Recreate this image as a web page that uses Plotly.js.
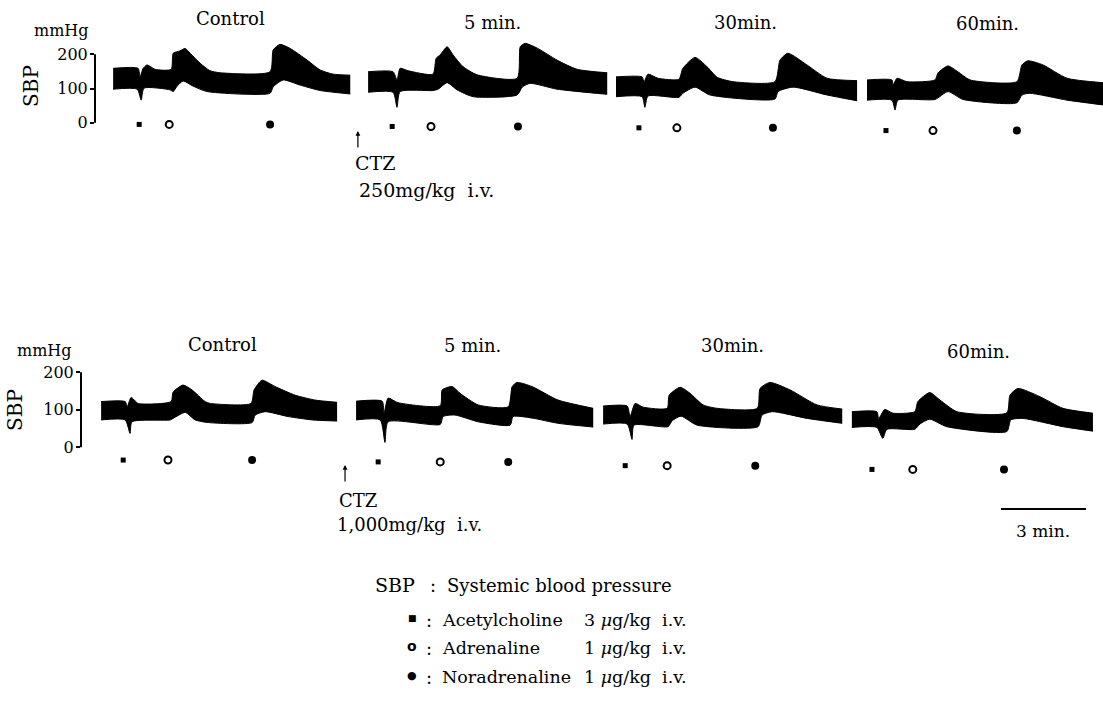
<!DOCTYPE html>
<html>
<head>
<meta charset="utf-8">
<script src="https://cdn.plot.ly/plotly-3.0.1.min.js"></script>
<style>html,body{margin:0;padding:0;background:#fff;}#chart{width:1103px;height:702px;}</style>
</head>
<body>
<div id="chart"></div>
<script>
// ---------------- DATA ----------------
const segmentTitles = ['Control', '5 min.', '30min.', '60min.'];
const tickValues = [0, 100, 200];

// Row 1: CTZ 250 mg/kg i.v. — time within each segment (min), SBP envelope (mmHg)
const r1UpT = [
  [0, 0.88, 0.95, 1.06, 1.20, 1.48, 2.05, 2.12, 2.36, 2.54, 2.72, 3.07, 3.42, 3.78, 5.54, 5.65, 5.89, 6.25, 6.85, 7.31, 7.77, 8.37],
  [0, 0.88, 1.02, 1.13, 1.41, 2.29, 2.40, 2.54, 2.79, 3.00, 3.35, 3.85, 5.26, 5.37, 5.54, 5.97, 6.67, 7.38, 8.44],
  [0, 0.92, 0.99, 1.13, 1.48, 2.22, 2.36, 2.79, 3.21, 3.57, 4.13, 5.61, 5.79, 6.07, 6.74, 7.45, 8.51],
  [0, 0.88, 0.92, 1.06, 1.41, 2.40, 2.51, 2.86, 3.21, 3.64, 5.29, 5.47, 5.68, 6.21, 7.06, 8.33]
];
const r1Up = [
  [159, 159, 134, 159, 169, 156, 156, 203, 210, 217, 203, 174, 152, 146, 149, 213, 229, 217, 183, 154, 142, 139],
  [149, 149, 125, 159, 152, 142, 188, 198, 222, 198, 164, 140, 130, 222, 232, 218, 183, 156, 146],
  [134, 134, 120, 142, 130, 127, 159, 191, 164, 133, 120, 120, 183, 203, 169, 130, 123],
  [125, 125, 110, 130, 120, 125, 146, 166, 149, 125, 120, 169, 181, 169, 130, 117]
];
const r1LoT = [
  [0, 0.85, 0.99, 1.09, 2.01, 2.12, 2.26, 2.47, 2.82, 3.32, 5.54, 5.65, 6.00, 6.60, 7.31, 8.37],
  [0, 0.88, 1.02, 1.13, 2.29, 2.47, 2.79, 3.14, 3.71, 5.26, 5.44, 5.72, 6.67, 8.44],
  [0, 0.92, 1.02, 1.13, 2.22, 2.36, 2.79, 3.32, 5.61, 5.72, 6.25, 7.45, 8.51],
  [0, 0.88, 0.99, 1.09, 2.40, 2.86, 3.39, 5.29, 5.47, 5.75, 7.06, 8.33]
];
const r1Lo = [
  [98, 98, 66, 101, 96, 91, 107, 122, 107, 91, 86, 105, 125, 110, 94, 84],
  [89, 89, 45, 91, 94, 98, 117, 96, 76, 81, 104, 115, 98, 83],
  [76, 76, 45, 78, 74, 86, 104, 81, 69, 91, 104, 81, 64],
  [66, 66, 37, 66, 68, 91, 68, 58, 81, 86, 66, 52]
];
const r1Ach = [0.92, 0.85, 0.81, 0.67];
const r1Adr = [1.98, 2.22, 2.15, 2.33];
const r1Nad = [5.54, 5.29, 5.54, 5.29];

// Row 2: CTZ 1,000 mg/kg i.v.
const r2UpT = [
  [0, 0.85, 0.92, 1.06, 1.31, 2.47, 2.54, 2.89, 3.21, 3.67, 3.85, 5.29, 5.40, 5.68, 6.14, 6.85, 7.55, 8.33],
  [0, 0.92, 0.99, 1.13, 1.48, 2.97, 3.04, 3.39, 3.67, 4.31, 5.37, 5.51, 5.68, 6.21, 7.13, 8.37],
  [0, 0.85, 0.95, 1.13, 1.41, 2.26, 2.33, 2.72, 3.07, 3.53, 4.02, 5.44, 5.54, 5.89, 6.60, 7.55, 8.44],
  [0, 0.88, 0.95, 1.16, 1.45, 2.22, 2.33, 2.75, 3.11, 3.71, 5.47, 5.58, 5.86, 6.64, 7.45, 8.51]
];
const r2Up = [
  [122, 122, 108, 133, 117, 122, 147, 166, 153, 122, 117, 117, 153, 179, 162, 139, 126, 120],
  [123, 123, 91, 131, 119, 111, 153, 162, 144, 113, 108, 162, 173, 162, 126, 104],
  [110, 110, 82, 117, 107, 104, 139, 160, 144, 113, 104, 104, 157, 173, 153, 113, 102],
  [95, 95, 77, 101, 91, 95, 122, 146, 126, 95, 92, 139, 157, 135, 104, 91]
];
const r2LoT = [
  [0, 0.85, 1.02, 1.09, 2.44, 2.54, 2.97, 3.32, 3.78, 5.33, 5.44, 5.79, 6.60, 7.45, 8.33],
  [0, 0.85, 1.02, 1.13, 2.97, 3.07, 3.49, 4.31, 5.44, 5.54, 6.21, 7.13, 8.37],
  [0, 0.85, 1.02, 1.09, 2.29, 2.44, 2.75, 3.32, 5.47, 5.61, 5.97, 7.20, 8.44],
  [0, 0.88, 1.09, 1.24, 2.22, 2.40, 2.75, 3.35, 5.47, 5.61, 6.04, 7.45, 8.51]
];
const r2Lo = [
  [73, 73, 37, 68, 73, 77, 93, 73, 66, 66, 86, 95, 82, 73, 70],
  [73, 73, 13, 68, 61, 82, 86, 68, 59, 82, 78, 64, 54],
  [62, 62, 21, 59, 55, 71, 83, 59, 55, 86, 95, 77, 64],
  [53, 53, 24, 48, 48, 62, 75, 55, 42, 73, 77, 55, 43]
];
const r2Ach = [0.78, 0.78, 0.78, 0.71];
const r2Adr = [2.36, 2.97, 2.26, 2.15];
const r2Nad = [5.33, 5.37, 5.37, 5.37];

const scaleBarMinutes = 3;

// ---------------- LAYOUT CONSTANTS (positions) ----------------
const W = 1103, H = 702;
const PX_PER_MIN = 28.33;
const r1SegStart = [0.64, 9.64, 18.39, 27.25];
const r2SegStart = [0.71, 9.71, 18.43, 27.21];
const r1MarkLevel = [-5, -11, -15, -23];
const r2MarkLevel = [-34, -39, -49, -59];
const FONT = '"DejaVu Serif", "Liberation Serif", serif';
const SYMFONT = '"DejaVu Sans", sans-serif';

const px = x => x / W;
const py = y => 1 - y / H;
function domainFor(zeroPx, pxPerUnit, lo, hi) {
  return [py(zeroPx - lo * pxPerUnit), py(zeroPx - hi * pxPerUnit)];
}

const traces = [];
function addRow(UpT, Up, LoT, Lo, starts, ach, adr, nad, levels, xa, ya) {
  const lineStyle = {color: '#000', width: 1, shape: 'spline', smoothing: 0.6};
  for (let i = 0; i < starts.length; i++) {
    const s = starts[i];
    traces.push({type: 'scatter', mode: 'lines', x: LoT[i].map(t => t + s), y: Lo[i], xaxis: xa, yaxis: ya,
      line: lineStyle, hoverinfo: 'skip', showlegend: false});
    traces.push({type: 'scatter', mode: 'lines', x: UpT[i].map(t => t + s), y: Up[i], xaxis: xa, yaxis: ya,
      fill: 'tonexty', fillcolor: '#000', line: lineStyle, hoverinfo: 'skip', showlegend: false});
  }
  const mk = (times, symbol, size, lw) => ({
    type: 'scatter', mode: 'markers', xaxis: xa, yaxis: ya, showlegend: false, hoverinfo: 'skip',
    x: times.map((t, i) => t + starts[i]), y: levels.slice(),
    marker: {symbol, size, color: '#000', line: {color: '#000', width: lw}}, cliponaxis: false
  });
  traces.push(mk(ach, 'square', 5, 0));
  traces.push(mk(adr, 'circle-open', 7, 2));
  traces.push(mk(nad, 'circle', 8, 0));
}
addRow(r1UpT, r1Up, r1LoT, r1Lo, r1SegStart, r1Ach, r1Adr, r1Nad, r1MarkLevel, 'x', 'y');
addRow(r2UpT, r2Up, r2LoT, r2Lo, r2SegStart, r2Ach, r2Adr, r2Nad, r2MarkLevel, 'x2', 'y2');

const yCommon = {
  tickmode: 'array', tickvals: tickValues, ticktext: tickValues.map(String),
  ticks: 'outside', ticklen: 4, tickwidth: 2, tickcolor: '#000',
  showgrid: false, zeroline: false, showline: false,
  tickfont: {family: FONT, size: 16, color: '#000'}, ticklabelstandoff: -1, fixedrange: true
};

const ann = [];
function txt(text, x, y, size, opts) {
  ann.push(Object.assign({text, x: px(x), y: py(y), xref: 'paper', yref: 'paper', showarrow: false,
    xanchor: 'center', yanchor: 'middle', font: {family: FONT, size, color: '#000'}}, opts || {}));
}
// Titles
const r1TitlePos = [[230, 18], [492, 22], [745, 23], [987, 24]];
const r2TitlePos = [[222, 344], [472, 345], [732, 345], [978, 351]];
segmentTitles.forEach((t, i) => { txt(t, r1TitlePos[i][0], r1TitlePos[i][1], 18); txt(t, r2TitlePos[i][0], r2TitlePos[i][1], 18); });
// Axis labels
txt('mmHg', 61, 31, 16); txt('SBP', 31, 86, 20, {textangle: -90});
txt('mmHg', 44, 350, 16); txt('SBP', 15, 410, 20, {textangle: -90});
// CTZ arrows
ann.push({x: 9.28, y: py(131), xref: 'x', yref: 'paper', ax: 0, ay: 18, showarrow: true, arrowhead: 2, arrowsize: 0.8, arrowwidth: 1.2, arrowcolor: '#000', text: ''});
ann.push({x: 9.32, y: py(465), xref: 'x2', yref: 'paper', ax: 0, ay: 18, showarrow: true, arrowhead: 2, arrowsize: 0.8, arrowwidth: 1.2, arrowcolor: '#000', text: ''});
txt('CTZ', 353, 163, 19, {xanchor: 'left'});
txt('250mg/kg  i.v.', 357, 190, 19, {xanchor: 'left'});
txt('CTZ', 337, 500, 18, {xanchor: 'left'});
txt('1,000mg/kg  i.v.', 335, 524, 18, {xanchor: 'left'});
// Scale bar label
const sbStart = (1001 - 81) / PX_PER_MIN;
ann.push({text: scaleBarMinutes + ' min.', x: sbStart + scaleBarMinutes / 2, y: py(531), xref: 'x2', yref: 'paper', showarrow: false,
  xanchor: 'center', yanchor: 'middle', font: {family: FONT, size: 17, color: '#000'}});
// Legend
txt('SBP', 373, 585, 19, {xanchor: 'left'});
txt(':', 433, 585, 18);
txt('Systemic blood pressure', 445, 585, 18, {xanchor: 'left'});
const legendRows = [['■', 9, 'Acetylcholine', '3', 620], ['<b>o</b>', 14, 'Adrenaline', '1', 648], ['●', 11, 'Noradrenaline', '1', 677]];
legendRows.forEach(r => {
  txt(r[0], 412, r[4] - 2, r[1], {font: {family: SYMFONT, size: r[1], color: '#000'}});
  txt(':', 429, r[4], 18);
  txt(r[2], 440, r[4], 17.5, {xanchor: 'left'});
  txt(r[3] + ' <i>μ</i>g/kg  i.v.', 582, r[4], 17.5, {xanchor: 'left'});
});

const layout = {
  width: W, height: H, margin: {l: 0, r: 0, t: 0, b: 0}, paper_bgcolor: '#fff', plot_bgcolor: '#fff',
  showlegend: false,
  xaxis: {domain: [px(95), 1], range: [0, (W - 95) / PX_PER_MIN], visible: false, anchor: 'y', fixedrange: true},
  yaxis: Object.assign({domain: domainFor(122.7, 0.342, -30, 240), range: [-30, 240], anchor: 'x'}, yCommon),
  xaxis2: {domain: [px(81), 1], range: [0, (W - 81) / PX_PER_MIN], visible: false, anchor: 'y2', fixedrange: true},
  yaxis2: Object.assign({domain: domainFor(447.3, 0.375, -70, 230), range: [-70, 230], anchor: 'x2'}, yCommon),
  shapes: [
    {type: 'line', xref: 'x domain', yref: 'y', x0: 0, x1: 0, y0: 0, y1: 200, line: {color: '#000', width: 2}},
    {type: 'line', xref: 'x2 domain', yref: 'y2', x0: 0, x1: 0, y0: 0, y1: 200, line: {color: '#000', width: 2}},
    {type: 'line', xref: 'x2', yref: 'paper', x0: sbStart, x1: sbStart + scaleBarMinutes, y0: py(509), y1: py(509), line: {color: '#000', width: 2}}
  ],
  annotations: ann
};
Plotly.newPlot('chart', traces, layout, {staticPlot: true, displayModeBar: false});
</script>
</body>
</html>
